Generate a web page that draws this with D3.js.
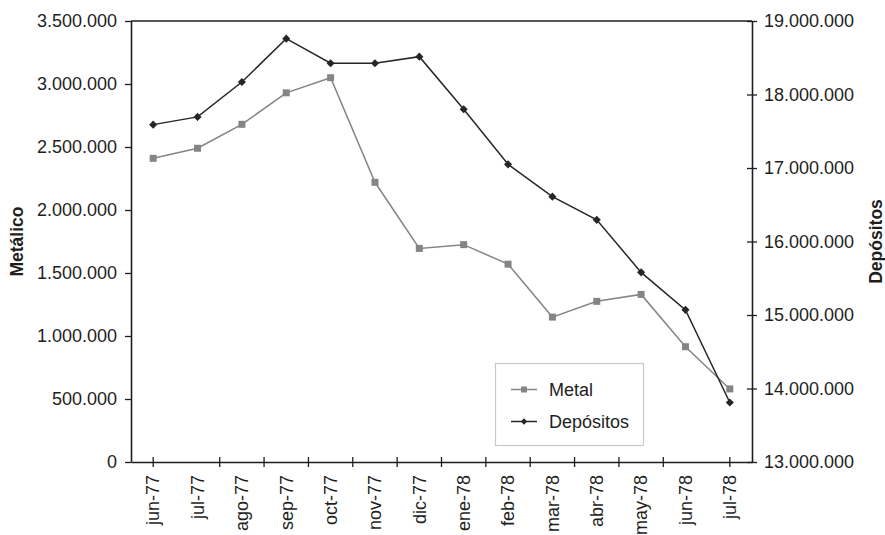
<!DOCTYPE html>
<html>
<head>
<meta charset="utf-8">
<script src="https://cdn.jsdelivr.net/npm/d3@7/dist/d3.min.js"></script>
<style>
  html, body { margin: 0; padding: 0; background: #fff; }
  svg text { font-family: "Liberation Sans", Arial, Helvetica, sans-serif; fill: #1e1e1e; }
</style>
</head>
<body>
<svg id="chart" width="885" height="535"></svg>
<script>
// Monthly series, June 1977 – July 1978
const months = ["jun-77","jul-77","ago-77","sep-77","oct-77","nov-77","dic-77",
                "ene-78","feb-78","mar-78","abr-78","may-78","jun-78","jul-78"];
const metal = [2410000, 2490000, 2680000, 2930000, 3050000, 2220000, 1695000,
               1725000, 1570000, 1150000, 1275000, 1330000, 915000, 580000];
const depositos = [17590000, 17695000, 18170000, 18760000, 18425000, 18425000, 18515000,
                   17800000, 17050000, 16610000, 16295000, 15580000, 15070000, 13810000];
const leftTicks = [0, 500000, 1000000, 1500000, 2000000, 2500000, 3000000, 3500000];
const rightTicks = [13000000, 14000000, 15000000, 16000000, 17000000, 18000000, 19000000];
const seriesNames = ["Metal", "Depósitos"];
const axisTitles = ["Metálico", "Depósitos"];

const svg = d3.select("#chart");
const plot = { left: 131, right: 752, top: 21, bottom: 462 };
const ink = "#1e1e1e";
const metalColor = "#858585";
const depColor = "#262626";
const fontSize = "18px";

const es = d3.formatLocale({ decimal: ",", thousands: ".", grouping: [3], currency: ["", ""] });
const fmt = es.format(",d");

const x = d3.scaleBand().domain(months).range([plot.left, plot.right]).padding(0);
const xc = m => x(m) + x.bandwidth() / 2;
const xi = d3.scaleLinear().domain([0, months.length]).range([plot.left, plot.right]);
const yL = d3.scaleLinear().domain([0, 3500000]).range([plot.bottom, plot.top]);
const yR = d3.scaleLinear().domain([13000000, 19000000]).range([plot.bottom, plot.top]);

// frame top edge
svg.append("line")
  .attr("x1", plot.left).attr("x2", plot.right)
  .attr("y1", plot.top).attr("y2", plot.top)
  .attr("stroke", ink).attr("stroke-width", 1.6);

// left axis
const gL = svg.append("g").attr("transform", `translate(${plot.left},0)`)
  .call(d3.axisLeft(yL).tickValues(leftTicks).tickFormat(fmt).tickSize(6).tickPadding(8).tickSizeOuter(0));
gL.select(".domain").attr("stroke", ink).attr("stroke-width", 1.6);
gL.selectAll(".tick line").attr("stroke", ink).attr("stroke-width", 1.3);
gL.selectAll(".tick text").style("font-size", fontSize).attr("fill", ink);

// right axis (ticks cross the axis line)
const gR = svg.append("g").attr("transform", `translate(${plot.right},0)`)
  .call(d3.axisRight(yR).tickValues(rightTicks).tickFormat(fmt).tickSize(5).tickPadding(7).tickSizeOuter(0));
gR.select(".domain").attr("stroke", ink).attr("stroke-width", 1.6);
gR.selectAll(".tick line").attr("x1", -5).attr("stroke", ink).attr("stroke-width", 1.3);
gR.selectAll(".tick text").style("font-size", fontSize).attr("fill", ink);

// bottom axis: labels at category centres
const gB = svg.append("g").attr("transform", `translate(0,${plot.bottom})`)
  .call(d3.axisBottom(x).tickSize(0).tickSizeOuter(0).tickPadding(0));
gB.select(".domain").attr("stroke", ink).attr("stroke-width", 1.6);
gB.selectAll(".tick text")
  .style("font-size", fontSize).attr("fill", ink)
  .attr("text-anchor", "end")
  .attr("dy", "0.35em")
  .attr("transform", "translate(0,13) rotate(-90)")
  .attr("x", 0).attr("y", 0);

// bottom tick marks
const tickPos = [xc(months[0])]
  .concat(d3.range(2, months.length - 1).map(i => xi(i)))
  .concat([xc(months[months.length - 1])]);
svg.append("g").selectAll("line").data(tickPos).join("line")
  .attr("x1", d => d).attr("x2", d => d)
  .attr("y1", plot.bottom - 5).attr("y2", plot.bottom + 5)
  .attr("stroke", ink).attr("stroke-width", 1.3);

// axis titles
svg.append("text")
  .attr("transform", `translate(23,${(plot.top + plot.bottom) / 2}) rotate(-90)`)
  .attr("text-anchor", "middle")
  .style("font-size", "17.5px").style("font-weight", "bold")
  .text(axisTitles[0]);
svg.append("text")
  .attr("transform", `translate(882,${(plot.top + plot.bottom) / 2}) rotate(-90)`)
  .attr("text-anchor", "middle")
  .style("font-size", "17.5px").style("font-weight", "bold")
  .text(axisTitles[1]);

// Metal series (left scale)
const lineL = d3.line().x((d, i) => xc(months[i])).y(d => yL(d));
svg.append("path").datum(metal)
  .attr("d", lineL).attr("fill", "none")
  .attr("stroke", metalColor).attr("stroke-width", 1.5);
svg.append("g").selectAll("rect").data(metal).join("rect")
  .attr("x", (d, i) => xc(months[i]) - 3.5)
  .attr("y", d => yL(d) - 3.5)
  .attr("width", 7).attr("height", 7)
  .attr("fill", metalColor);

// Depósitos series (right scale)
const lineR = d3.line().x((d, i) => xc(months[i])).y(d => yR(d));
svg.append("path").datum(depositos)
  .attr("d", lineR).attr("fill", "none")
  .attr("stroke", depColor).attr("stroke-width", 1.5);
const diamond = d3.symbol().type(d3.symbolDiamond2).size(42);
svg.append("g").selectAll("path").data(depositos).join("path")
  .attr("transform", (d, i) => `translate(${xc(months[i])},${yR(d)})`)
  .attr("d", diamond)
  .attr("fill", depColor);

// legend
const lg = svg.append("g").attr("transform", "translate(495,363)");
lg.append("rect").attr("x", 0.5).attr("y", 0.5).attr("width", 148).attr("height", 82)
  .attr("fill", "#fff").attr("stroke", "#c8c8c8").attr("stroke-width", 1.2);
const rows = [
  { name: seriesNames[0], color: metalColor, y: 26.5, kind: "square" },
  { name: seriesNames[1], color: depColor, y: 58.5, kind: "diamond" }
];
rows.forEach(r => {
  lg.append("line").attr("x1", 16).attr("x2", 42).attr("y1", r.y).attr("y2", r.y)
    .attr("stroke", r.color).attr("stroke-width", 1.5);
  if (r.kind === "square") {
    lg.append("rect").attr("x", 29 - 3).attr("y", r.y - 3).attr("width", 6).attr("height", 6)
      .attr("fill", r.color);
  } else {
    lg.append("path").attr("transform", `translate(29,${r.y})`)
      .attr("d", d3.symbol().type(d3.symbolDiamond2).size(26)).attr("fill", r.color);
  }
  lg.append("text").attr("x", 54).attr("y", r.y).attr("dy", "0.35em")
    .style("font-size", fontSize).text(r.name);
});
</script>
</body>
</html>
